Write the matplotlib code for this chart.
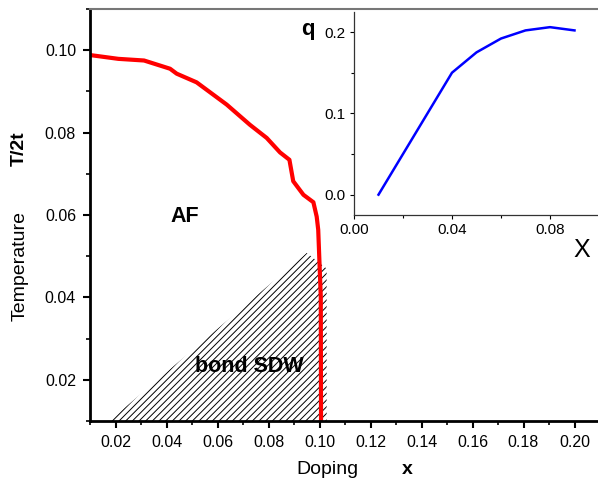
import matplotlib
matplotlib.use('Agg')
import matplotlib.pyplot as plt
from matplotlib.ticker import MultipleLocator

plt.rcParams['font.family'] = ['Liberation Sans', 'DejaVu Sans']
plt.rcParams['hatch.linewidth'] = 0.7

# AF transition line, T/2t vs doping x
af_x = [0.0103, 0.0211, 0.0312, 0.0414, 0.0440, 0.0518, 0.0636, 0.0727,
        0.0793, 0.0845, 0.0882, 0.0897, 0.0937, 0.0976, 0.0989, 0.0995,
        0.1005, 0.1006]
af_t = [0.0988, 0.0979, 0.0975, 0.0955, 0.0943, 0.0922, 0.0868, 0.0819,
        0.0787, 0.0752, 0.0734, 0.0682, 0.0649, 0.0631, 0.0596, 0.0564,
        0.0402, 0.0100]

# bond SDW region outline
sdw_x = [0.0175, 0.0950, 0.1028, 0.1028]
sdw_t = [0.0100, 0.0508, 0.0470, 0.0100]

# inset: q vs x
q_x = [0.01, 0.02, 0.03, 0.04, 0.05, 0.06, 0.07, 0.08, 0.09]
q_val = [0.0, 0.05, 0.10, 0.150, 0.175, 0.192, 0.202, 0.206, 0.202]

main_xticks = [0.02, 0.04, 0.06, 0.08, 0.10, 0.12, 0.14, 0.16, 0.18, 0.20]
main_yticks = [0.02, 0.04, 0.06, 0.08, 0.10]
inset_xticks = [0.00, 0.04, 0.08]
inset_yticks = [0.0, 0.1, 0.2]

fig = plt.figure(figsize=(5.98, 4.79), dpi=100)
ax = fig.add_axes([90 / 598, 58 / 479, 510 / 598, 412 / 479])

ax.fill(sdw_x, sdw_t, facecolor='none', edgecolor='black', hatch='/////',
        linewidth=0)
ax.plot(af_x, af_t, color='#ff0000', linewidth=3, solid_capstyle='butt')

ax.set_xlim(0.01, 0.21)
ax.set_ylim(0.01, 0.11)
ax.set_xticks(main_xticks)
ax.set_xticklabels(['%.2f' % v for v in main_xticks])
ax.set_yticks(main_yticks)
ax.set_yticklabels(['%.2f' % v for v in main_yticks])
ax.xaxis.set_minor_locator(MultipleLocator(0.01))
ax.yaxis.set_minor_locator(MultipleLocator(0.01))
ax.tick_params(which='major', direction='out', length=5, width=1.5,
               labelsize=11.5, pad=5)
ax.tick_params(which='minor', direction='out', length=3, width=1.2)
ax.spines['left'].set_linewidth(2)
ax.spines['bottom'].set_linewidth(2)
ax.spines['top'].set_color('#777777')
ax.spines['top'].set_linewidth(1.5)
ax.spines['right'].set_visible(False)

ax.text(0.0473, 0.0596, 'AF', fontsize=15.5, fontweight='bold',
        ha='center', va='center')
ax.text(0.0724, 0.0232, 'bond SDW', fontsize=15.5, fontweight='bold',
        ha='center', va='center')

fig.text(20 / 598, 1 - 266 / 479, 'Temperature', rotation=90, fontsize=14,
         ha='center', va='center')
fig.text(19 / 598, 1 - 149 / 479, 'T/2t', rotation=90, fontsize=14,
         fontweight='bold', ha='center', va='center')
fig.text(327 / 598, 1 - 474 / 479, 'Doping', fontsize=14,
         ha='center', va='baseline')
fig.text(407 / 598, 1 - 474 / 479, 'x', fontsize=14, fontweight='bold',
         ha='center', va='baseline')

# inset
ins = fig.add_axes([354 / 598, 1 - 215 / 479, 245 / 598, 203.3 / 479])
ins.plot(q_x, q_val, color='#0000ff', linewidth=1.8)
ins.set_xlim(0.0, 0.1)
ins.set_ylim(-0.025, 0.225)
ins.set_xticks(inset_xticks)
ins.set_xticklabels(['%.2f' % v for v in inset_xticks])
ins.set_yticks(inset_yticks)
ins.set_yticklabels(['%.1f' % v for v in inset_yticks])
ins.xaxis.set_minor_locator(MultipleLocator(0.02))
ins.yaxis.set_minor_locator(MultipleLocator(0.05))
ins.tick_params(which='major', direction='out', length=3, width=0.8,
                labelsize=11, pad=3)
ins.tick_params(which='minor', direction='out', length=2, width=0.8)
for s in ['left', 'bottom']:
    ins.spines[s].set_linewidth(0.9)
    ins.spines[s].set_color('#333333')
ins.spines['top'].set_visible(False)
ins.spines['right'].set_visible(False)

fig.text(308 / 598, 1 - 30 / 479, 'q', fontsize=16, fontweight='bold',
         ha='center', va='center')
fig.text(582 / 598, 1 - 250 / 479, 'X', fontsize=18, ha='center',
         va='center')

fig.savefig('out.png', dpi=100)
